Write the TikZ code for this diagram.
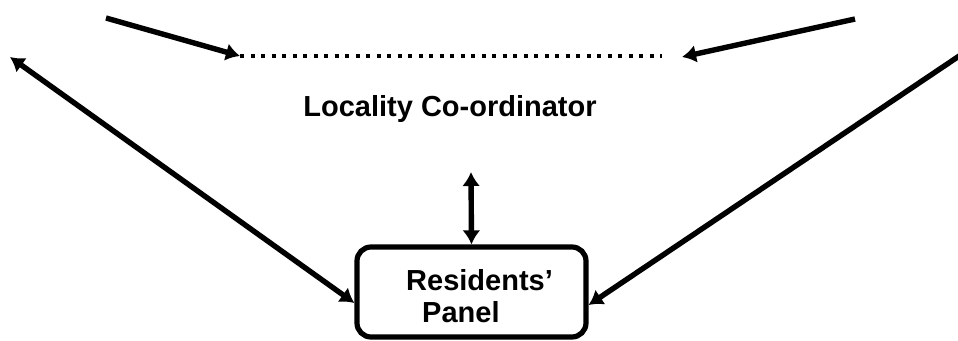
\documentclass[tikz,border=0pt]{standalone}
\usepackage{fontspec}
\setmainfont{Liberation Sans}
\usetikzlibrary{arrows.meta}
\begin{document}
\begin{tikzpicture}[x=1pt,y=-1pt,
  conn/.style={line width=5.4pt,black},
  headend/.style={-{Latex[length=14pt,width=18pt]}},
  headboth/.style={{Latex[length=14pt,width=18pt]}-{Latex[length=14pt,width=18pt]}},
  dotline/.style={line width=4pt,dash pattern=on 4pt off 6.5pt},
  lbl/.style={font=\fontsize{29}{35}\selectfont\bfseries,inner sep=0pt},
  panelbox/.style={draw,line width=5.2pt,rounded corners=14pt,minimum width=229pt,minimum height=90pt,inner sep=0pt}]
\useasboundingbox (0,0) rectangle (958,340);
\clip (0,0) rectangle (958,340);
% named points
\coordinate (tlstart) at (106,18);
\coordinate (dotL) at (240,56);
\coordinate (dotR) at (662,56);
\coordinate (trstart) at (855,19);
\coordinate (trtip) at (682,57);
\coordinate (ltip) at (10,57);
\coordinate (rtip) at (980,42);
\coordinate (vtop) at (471,172);
% box
\node[panelbox] (panel) at (471.5,292) {};
\coordinate (pl) at (panel.west |- 0,303);
\coordinate (pr) at (panel.east |- 0,305);
% texts
\node[lbl,anchor=base west] (res) at (406,290) {Residents’};
\node[lbl,anchor=base west] (pan) at (422,322) {Panel};
\node[lbl,anchor=base] (loc) at (450,116) {Locality Co-ordinator};
% connectors
\draw[conn,headend] (tlstart) -- (dotL);
\draw[conn,headend] (trstart) -- (trtip);
\draw[dotline] (dotL) -- (dotR);
\draw[conn,headboth] (ltip) -- (pl);
\draw[conn,headboth] (rtip) -- (pr);
\draw[conn,headboth] (vtop) -- (panel.north);
\end{tikzpicture}
\end{document}
